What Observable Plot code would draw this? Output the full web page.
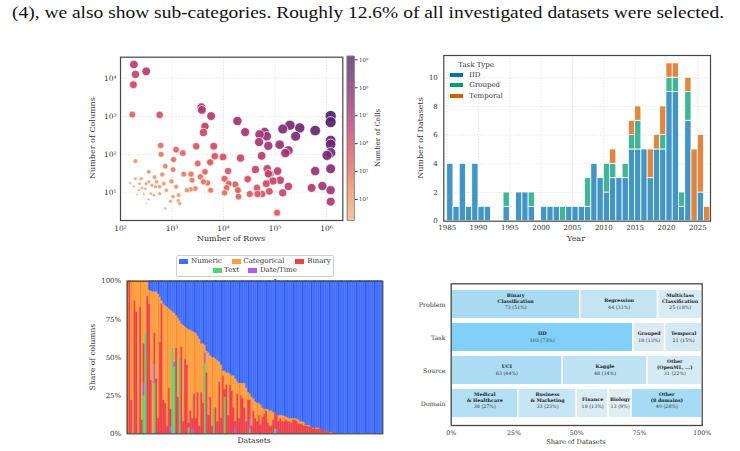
<!DOCTYPE html>
<html><head><meta charset="utf-8">
<script src="https://cdn.jsdelivr.net/npm/d3@7"></script>
<script src="https://cdn.jsdelivr.net/npm/@observablehq/plot@0.6"></script>
<style>
body{margin:0;background:#fff;}
#page{position:relative;width:740px;height:451px;overflow:hidden;background:#fff;font-family:"DejaVu Serif",serif;color:#333;}
.panel{position:absolute;}
.lbl{position:absolute;white-space:nowrap;line-height:1;color:#333;font-family:"DejaVu Serif",serif;}
.patch{position:absolute;}
.legbox{position:absolute;border:1px solid #cfcfcf;border-radius:2px;background:#fff;box-sizing:border-box;}
</style></head><body><div id="page"></div>
<script>
// ---------- DATA ----------
// Panel 1: scatter (log10 rows, log10 columns per dataset)
const logRows = [2.26,2.29,2.50,2.25,2.23,2.76,3.57,3.58,3.76,3.64,3.61,4.27,4.42,4.70,4.80,4.84,4.69,4.87,5.15,5.29,5.48,5.40,5.09,5.20,5.26,4.74,5.78,6.08,6.08,6.08,6.08,6.08,6.01,6.08,6.08,6.08,5.78,5.71,5.92,5.05,5.10,4.96,5.26,5.15,5.04,4.85,4.87,4.90,4.83,4.89,4.62,4.65,4.66,4.51,4.47,4.75,4.33,4.09,4.02,4.10,4.06,4.02,4.23,4.28,4.29,3.99,3.83,3.81,3.74,3.50,3.47,3.64,3.69,3.75,3.55,3.39,3.37,3.45,3.36,3.23,2.78,2.79,3.08,3.21,3.03,3.02,2.87,2.81,2.99,3.08,3.13,3.12,3.15,2.97,2.87,2.89,2.76,2.76,2.70,2.65,2.55,2.55,2.50,2.48,2.40,2.37,2.42,2.32,2.45,2.54,2.50,2.29,2.19,2.26,2.29,2.59,3.29,3.61,3.02,2.68,2.36,2.61,2.84,2.66];
const logCols = [4.36,4.10,4.18,3.83,3.05,3.04,3.24,3.17,3.01,2.74,2.58,2.88,2.59,2.53,2.59,2.48,2.33,2.23,2.67,2.77,2.70,2.48,2.26,2.04,2.11,1.97,2.63,3.01,2.85,2.37,2.27,2.05,1.98,1.63,1.07,0.77,1.57,1.13,1.18,1.57,1.33,1.31,1.17,1.00,0.48,1.63,1.50,1.49,1.24,1.04,1.61,1.13,0.97,0.97,1.36,0.97,1.91,1.57,1.37,1.24,1.13,1.00,1.22,1.07,0.90,1.94,1.96,2.22,1.80,1.77,2.22,1.55,1.26,1.07,1.42,1.33,1.49,1.11,1.09,1.49,2.24,2.01,2.13,2.04,1.87,1.61,1.70,1.48,1.30,1.16,0.94,0.79,0.72,0.78,0.59,1.07,0.98,1.16,1.29,0.94,1.55,1.29,1.24,1.11,1.37,1.24,1.13,0.96,0.97,0.83,0.72,1.37,1.26,1.17,1.83,0.98,1.07,1.29,0.90,1.16,1.07,1.20,1.24,1.41];
const xTicksRows = [1e2,1e3,1e4,1e5,1e6];
const yTicksCols = [1e1,1e2,1e3,1e4];
const cellTicks = [1e4,1e5,1e6,1e7,1e8,1e9];

// Panel 2: datasets per year by task type
const years    = [1985,1986,1987,1988,1989,1990,1991,1992,1993,1994,1995,1996,1997,1998,1999,2000,2001,2002,2003,2004,2005,2006,2007,2008,2009,2010,2011,2012,2013,2014,2015,2016,2017,2018,2019,2020,2021,2022,2023,2024,2025,2026];
const iidCounts      = [4,1,4,1,4,1,1,0,0,1,0,2,2,1,0,1,1,1,0,1,1,1,1,4,3,2,3,3,3,5,5,5,3,5,5,9,9,1,7,0,2,0];
const groupedCounts  = [0,0,0,0,0,0,0,0,0,1,0,0,0,1,0,0,0,0,1,0,0,0,2,0,0,2,1,0,1,1,2,0,0,0,1,1,1,1,2,0,0,0];
const temporalCounts = [0,0,0,0,0,0,0,0,0,0,0,0,0,0,0,0,0,0,0,0,0,0,0,0,0,0,1,0,0,1,1,0,2,1,2,1,1,0,1,5,4,1];
const taskTypes = ["IID","Grouped","Temporal"];
const yearTicks = [1985,1990,1995,2000,2005,2010,2015,2020,2025];

// Panel 3: share of column types per dataset (%), datasets sorted by numeric share
const numericShare = [0,0,0,0,0,0,0,0,0,0,0,0,
 6,6.5,7,7,7,8.5,10.5,13,15,16,17,18,19,20,21,22.5,24,26,28,29,30,31,32,32,33,33.5,34,36,38,41,41,42,46,47,49,50,50,51,52,53,55,59,59,60,60,61,62,62,64,66,67,67,67,67,70,73,74,76,77,79,80,80,81,83,84,84,84,85,85,86,87,88,88,88,88,88.5,89,89.5,90,90,90,90,90.5,91,92,92,92.5,94.5,94.5,94.5,95,96.3,96.3,96.3,96.3,96.5,98,98,98,98,99,99,99,99.5,
 100,100,100,100,100,100,100,100,100,100,100,100,100,100,100,100,100,100,100,100,100,100,100,100,100,100];
const binaryShare = [0,100,22,0,87,80,0,83,9,26,0,90,
 85,35,0,20,36,10,60,85,22,20,5,30,11,0,0,56,24,0,57,8,49,45,3,15,7,26,10,27,5,27,20,0,40,12,24,5,0,17,8,34,10,38,5,32,12,32,28,17,4,26,10,25,23,17,8,22,12,5,15,10,8,12,6,11,13,15,7,5,5,9,11,9,8,10,8,8,9,8,8,7,9,9,8,6.5,6.5,6,5,5,5,4.5,5,3,3.5,3,3,3.5,2,2,2,2,1,0.5,1,0.5,
 0,0,0,0,0,0,0,0,0,0,0,0,0,0,0,0,0,0,0,0,0,0,0,0,0,0];
const textShare = [0,0,0,0,0,0,0,0,0,25,66,0,
 0,0,0,33,0,0,0,0,0,0,0,0,0,56,44,0,0,50,0,0,0,0,4,0,0,0,0,0,0,0,0,46,0,0,0,0,16,0,0,0,0,0,24,0,0,0,0,0,0,0,0,0,0,0,0,0,3,0,0,0,0,0,0,0,0,0,0,0,0,0,3,0,0,0,0,0,0,0,0,0,0,0,0,0,0,0,0,0,0,0,0,0,0,0,0,0,0,0,0,0,0,0,0,0,
 0,0,0,0,0,0,0,0,0,0,0,0,0,0,0,0,0,0,0,0,0,0,0,0,0,0];
const dateShare = [0,0,0,0,0,0,0,0,0,8,0,0,
 0,0,0,13,0,0,0,0,0,0,0,0,5,0,3,0,0,0,0,0,0,0,0,0,3,0,0,0,0,0,0,7,0,0,0,0,0,0,0,0,0,0,0,0,0,0,0,0,4,0,0,0,0,0,0,0,7,0,0,0,0,0,0,0,0,0,0,0,0,0,0,3,0,0,0,0,0,0,0,0,0,0,0,0,0,0,0,0,0,0,0,0,0,0,0,0,0,0,0,0,0,0,0,0,
 0,0,0,0,0,0,0,0,0,0,0,0,0,0,0,0,0,0,0,0,0,0,0,0,0,0];
const columnTypes = ["Numeric","Categorical","Binary","Text","Date/Time"];
const shareTicks = [0,25,50,75,100];

// Panel 4: mosaic of dataset properties
const mosaicRows = ["Problem","Task","Source","Domain"];
const problemCats = ["Binary\nClassification","Regression","Multiclass\nClassification"];
const problemCounts = [73,44,25];
const taskCats = ["IID","Grouped","Temporal"];
const taskCounts = [103,18,21];
const sourceCats = ["UCI","Kaggle","Other\n(OpenML, ...)"];
const sourceCounts = [63,48,31];
const domainCats = ["Medical\n& Healthcare","Business\n& Marketing","Finance","Biology","Other\n(8 domains)"];
const domainCounts = [38,33,18,13,40];
const mosaicTicks = [0,0.25,0.5,0.75,1];

// ---------- STYLES ----------
const flare = d3.interpolateRgbBasis(["#edb081","#eb9a6c","#e46d5a","#d8505d","#bb3b6e","#932f78","#6b2670","#4b2362"]);
const taskColors = ["#4196c5","#41b696","#e08640"];
const taskLegendColors = ["#0173b2","#029e73","#d55e00"];
const stackOrder = ["Text","Date/Time","Binary","Categorical","Numeric"];
const typeColor = {"Numeric":"#416eff","Categorical":"#ff9d40","Binary":"#ee4048","Text":"#53d76a","Date/Time":"#a860e9"};
const typeEdge = {"Numeric":"#2452f2","Categorical":"#f5861c","Binary":"#e02a33","Text":"#33c24c","Date/Time":"#9045dc"};
const mosaicColors = ["#a8daf2","#c4e4f3","#d8ecf5","#80d0f8","#dcebf3","#d4e9f4","#abdcf4","#bfe3f4","#d4ebf5","#b3dff4","#c6e6f5","#d9ebf3","#e0edf3","#a5dbf4"];
const frameStroke = "#454545";
const gridStyle = {stroke:"#d6d6d6", strokeDasharray:"1.2,1.6", strokeWidth:0.7};

const page = document.getElementById("page");
function place(node, left, top){ const d=document.createElement("div"); d.className="panel"; d.style.left=left+"px"; d.style.top=top+"px"; d.appendChild(node); page.appendChild(d); return d; }
function label(text, x, y, size, rot, extra){ const d=document.createElement("div"); d.className="lbl"; d.textContent=text; d.style.left=x+"px"; d.style.top=y+"px"; d.style.fontSize=size+"px"; d.style.transform="translate(-50%,-50%)"+(rot?" rotate("+rot+"deg)":""); if(extra) Object.assign(d.style, extra); page.appendChild(d); return d; }
function leftLabel(text, x, y, size, extra){ const d=document.createElement("div"); d.className="lbl"; d.textContent=text; d.style.left=x+"px"; d.style.top=y+"px"; d.style.fontSize=size+"px"; d.style.transform="translateY(-50%)"; if(extra) Object.assign(d.style, extra); page.appendChild(d); return d; }
function patch(x, y, w, h, color){ const d=document.createElement("div"); d.className="patch"; Object.assign(d.style,{left:x+"px",top:y+"px",width:w+"px",height:h+"px",background:color}); page.appendChild(d); }

const supMap = {"0":"⁰","1":"¹","2":"²","3":"³","4":"⁴","5":"⁵","6":"⁶","7":"⁷","8":"⁸","9":"⁹"};
const fmtPow = v => "10" + String(Math.round(Math.log10(v))).split("").map(c=>supMap[c]).join("");
const baseStyle = (fs) => ({fontFamily:"DejaVu Serif", fontSize: fs+"px", color:"#333", background:"none", overflow:"visible"});

// ---------- TOP TEXT ----------
const topSvg = d3.create("svg").attr("width",740).attr("height",28);
topSvg.append("text").attr("x",12).attr("y",18).attr("font-family","Liberation Serif").attr("font-size",17)
  .attr("textLength",712).attr("lengthAdjust","spacingAndGlyphs").attr("fill","#111")
  .text("(4), we also show sub-categories. Roughly 12.6% of all investigated datasets were selected.");
place(topSvg.node(), 0, 0);

// ---------- PANEL 1: SCATTER ----------
const scatterData = logRows.map((r,i)=>({rows:10**r, cols:10**logCols[i], lc:r+logCols[i]}));
const colorOpt = {type:"linear", domain:[3.25,9.12], interpolate:flare, clamp:true};
const scatter = Plot.plot({
  width:290, height:200, marginLeft:60, marginRight:7.7, marginTop:10.7, marginBottom:26,
  style: baseStyle(7.5),
  x:{type:"log", domain:[100, 10**6.316], ticks:xTicksRows, tickFormat:fmtPow, tickSize:0, tickPadding:5, label:null},
  y:{type:"log", domain:[10**0.277, 10**4.55], ticks:yTicksCols, tickFormat:fmtPow, tickSize:0, tickPadding:4, label:null},
  color: colorOpt,
  r:{type:"sqrt", domain:[0,6.1], range:[0,5.6]},
  marks:[
    Plot.ruleX(xTicksRows.slice(1), gridStyle),
    Plot.ruleY(yTicksCols, gridStyle),
    Plot.dot(scatterData, {x:"rows", y:"cols", r:d=>d.lc-3, fill:"lc", fillOpacity:0.92, stroke:"white", strokeWidth:0.7}),
    Plot.frame({stroke:frameStroke, strokeWidth:1.2})
  ]
});
place(scatter, 60, 46);
// colorbar
const cbLevels = d3.range(3.25, 9.12, 0.02);
const cbar = Plot.plot({
  width:60, height:200, marginLeft:6.7, marginRight:46, marginTop:10, marginBottom:26,
  style: baseStyle(5.5),
  x:{domain:[0,1], axis:null},
  y:{type:"log", domain:[10**3.25, 10**9.12], axis:"right", ticks:cellTicks, tickFormat:fmtPow, tickSize:2.5, tickPadding:2, label:null},
  color: colorOpt,
  marks:[
    Plot.rect(cbLevels, {x1:0, x2:1, y1:d=>10**d, y2:d=>10**(d+0.021), fill:d=>d}),
    Plot.frame({stroke:"#777", strokeWidth:0.8})
  ]
});
place(cbar, 340, 46);
label("Number of Rows", 231, 239.3, 8);
label("Number of Columns", 93.3, 138.3, 8, -90);
label("Number of Cells", 378, 138, 7, -90);

// ---------- PANEL 2: BARS PER YEAR ----------
const barData = [];
years.forEach((yr,i)=>{
  let acc = 0;
  [iidCounts, groupedCounts, temporalCounts].forEach((arr,k)=>{
    const n = arr[i];
    if (n>0){ barData.push({year:yr, x2:yr+1, type:taskTypes[k], y1:acc, y2:acc+n}); acc+=n; }
  });
});
const bars = Plot.plot({
  width:320, height:200, marginLeft:43.3, marginRight:10, marginTop:10, marginBottom:24.3,
  style: baseStyle(7),
  x:{domain:[1984.46, 2027.03], ticks:yearTicks, tickFormat:d=>String(d), tickSize:0, tickPadding:4, label:null},
  y:{domain:[0,11.55], ticks:[0,2,4,6,8,10], tickSize:0, tickPadding:6, label:null},
  color:{domain:taskTypes, range:taskColors},
  marks:[
    Plot.ruleX(yearTicks, gridStyle),
    Plot.ruleY([2,4,6,8,10], gridStyle),
    Plot.rect(barData, {x1:"year", x2:"x2", y1:"y1", y2:"y2", fill:"type", stroke:"white", strokeWidth:0.8}),
    Plot.frame({stroke:frameStroke, strokeWidth:1.2})
  ]
});
place(bars, 400, 45);
label("Year", 576, 239.3, 8);
label("Number of Datasets", 420.7, 137.7, 8, -90);
leftLabel("Task Type", 458.3, 64.7, 7);
[74.7, 85, 96].forEach((cy,k)=>{ patch(450, cy-2, 13.3, 4, taskLegendColors[k]); leftLabel(taskTypes[k], 469.3, cy, 7); });

// ---------- PANEL 3: COLUMN TYPE SHARES ----------
const segs = [];
numericShare.forEach((n,i)=>{
  const vals = {"Text":textShare[i], "Date/Time":dateShare[i], "Binary":binaryShare[i], "Numeric":n};
  vals["Categorical"] = Math.max(0, 100 - n - textShare[i] - dateShare[i] - binaryShare[i]);
  let acc = 0;
  stackOrder.forEach(t=>{ const v = vals[t]; if (v>0){ segs.push({i, type:t, y1:acc, y2:acc+v}); acc+=v; } });
});
const shares = Plot.plot({
  width:330, height:181, marginLeft:66.7, marginRight:7.7, marginTop:10.7, marginBottom:17.7,
  style: baseStyle(7),
  x:{type:"band", domain:numericShare.map((_,i)=>i), padding:0, axis:null},
  y:{domain:[0,100], ticks:shareTicks, tickFormat:d=>d+"%", tickSize:0, tickPadding:6, label:null},
  color:{domain:columnTypes, range:columnTypes.map(t=>typeColor[t])},
  marks:[
    Plot.barY(segs, {x:"i", y1:"y1", y2:"y2", fill:"type", stroke:"type", strokeWidth:0.35}),
    // darker seams between bar edges, as in the raster of the original
    Plot.barY(segs.filter(d=>d.i%5===2 && (d.type==="Numeric"||d.type==="Categorical")), {x:"i", y1:"y1", y2:"y2", fill:d=>typeEdge[d.type], insetLeft:1.1}),
    Plot.frame({stroke:frameStroke, strokeWidth:1.2})
  ]
});
place(shares, 60, 270);
label("Datasets", 254, 441, 7.5);
label("Share of columns", 93.3, 356.7, 7.5, -90);
const lb = document.createElement("div"); lb.className="legbox"; Object.assign(lb.style,{left:"175.7px",top:"255px",width:"158.3px",height:"21.7px"}); page.appendChild(lb);
const legItems = [["Numeric",179,191,261.3],["Categorical",231.7,243.3,261.3],["Binary",295,307.3,261.3],["Text",212.7,224,270.3],["Date/Time",248,260,270.3]];
legItems.forEach(([t,px,tx,cy])=>{ patch(px, cy-2.4, 9.3, 4.8, typeColor[t]); leftLabel(t, tx, cy, 7); });

// ---------- PANEL 4: MOSAIC ----------
const mosaic = [];
[[problemCats,problemCounts],[taskCats,taskCounts],[sourceCats,sourceCounts],[domainCats,domainCounts]].forEach(([cats,counts],k)=>{
  const tot = d3.sum(counts); let acc = 0;
  cats.forEach((c,j)=>{ const n = counts[j];
    mosaic.push({row:mosaicRows[k], cat:c, n, x1:acc/tot, x2:(acc+n)/tot, xm:(acc+n/2)/tot,
      label:`${n} (${Math.round(n/tot*100)}%)`, lines:c.split("\n").length});
    acc += n; });
});
const allCats = [...problemCats, ...taskCats, ...sourceCats, ...domainCats];
const mos = Plot.plot({
  width:320, height:176, marginLeft:50.7, marginRight:18.3, marginTop:8.3, marginBottom:26,
  style: baseStyle(6.3),
  x:{domain:[0,1], ticks:mosaicTicks, tickFormat:d=>Math.round(d*100)+"%", tickSize:0, tickPadding:5, label:null},
  y:{domain:mosaicRows, paddingInner:0.14, paddingOuter:0.2, tickSize:0, tickPadding:5.7, label:null},
  color:{domain:allCats, range:mosaicColors},
  marks:[
    Plot.barX(mosaic, {x1:"x1", x2:"x2", y:"row", fill:"cat", insetLeft:0.8, insetRight:0.8}),
    Plot.text(mosaic.filter(d=>d.lines===1), {x:"xm", y:"row", text:"cat", fontWeight:"bold", fontSize:4.8, fill:"#1a1a1a", dy:-3.6}),
    Plot.text(mosaic.filter(d=>d.lines===2), {x:"xm", y:"row", text:"cat", fontWeight:"bold", fontSize:4.8, fill:"#1a1a1a", lineHeight:1.33, dy:-6.8}),
    Plot.text(mosaic, {x:"xm", y:"row", text:"label", fontSize:4.8, fill:"#333", dy:2.8}),
    Plot.frame({stroke:frameStroke, strokeWidth:1.3})
  ]
});
place(mos, 400, 275);
label("Share of Datasets", 576, 441.7, 6.6);
</script></body></html>
